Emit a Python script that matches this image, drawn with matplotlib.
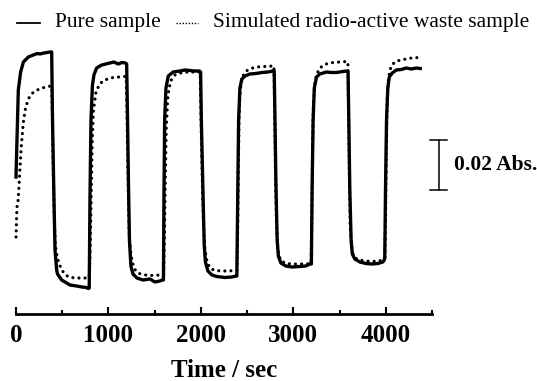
import numpy as np
import matplotlib
matplotlib.use('Agg')
import matplotlib.pyplot as plt
from matplotlib.lines import Line2D

##################
# DATA ###########
##################

# Pure sample trace: time (s) and absorbance (mAbs, arbitrary offset)
t_pure = [0, 25, 50, 80, 133, 187, 230, 260, 300, 340, 368, 386,
          395, 411, 422, 440, 449, 494, 548, 584, 656, 713, 760, 782,
          792, 800, 811, 827, 843, 872, 927, 1016, 1059, 1106, 1146, 1184,
          1197, 1205, 1216, 1227, 1243, 1265, 1308, 1373, 1449, 1503, 1557, 1584,
          1595, 1600, 1608, 1622, 1647, 1700, 1773, 1827, 1881, 1935, 1984,
          1997, 2005, 2022, 2036, 2049, 2076, 2119, 2173, 2260, 2335, 2382,
          2389, 2398, 2408, 2422, 2443, 2476, 2530, 2595, 2660, 2725, 2784,
          2793, 2800, 2811, 2825, 2838, 2865, 2919, 2984, 3070, 3135, 3178,
          3195, 3203, 3214, 3227, 3251, 3286, 3359, 3405, 3468, 3535, 3584,
          3592, 3600, 3611, 3625, 3638, 3665, 3719, 3784, 3849, 3914, 3968, 3984,
          3989, 3997, 4008, 4022, 4038, 4070, 4114, 4168, 4222, 4276, 4330, 4373]
a_pure = [49.2, 84.0, 91.2, 95.2, 97.2, 98.0, 98.6, 98.4, 98.8, 99.0, 99.2, 99.2,
          72.0, 40.0, 20.0, 12.0, 10.4, 8.0, 6.8, 6.0, 5.6, 5.2, 5.0, 4.6,
          4.8, 40.0, 72.0, 86.0, 90.0, 92.8, 94.0, 94.8, 95.2, 94.4, 95.0, 94.8,
          94.4, 76.0, 48.0, 24.0, 13.6, 10.4, 8.8, 8.0, 8.4, 7.2, 7.6, 8.0,
          8.0, 40.0, 72.0, 84.8, 89.6, 91.2, 91.6, 92.0, 91.8, 91.6, 91.6,
          91.2, 72.0, 44.0, 22.0, 15.2, 11.6, 10.0, 9.4, 9.0, 9.2, 9.6,
          9.6, 40.0, 72.0, 84.8, 88.4, 89.6, 90.4, 90.6, 91.0, 91.2, 91.6,
          91.6, 76.0, 48.0, 24.0, 17.6, 14.8, 13.6, 13.2, 13.4, 13.6, 14.4,
          14.4, 44.0, 72.0, 84.8, 89.2, 90.4, 91.2, 91.0, 91.0, 91.4, 91.6,
          91.2, 72.0, 44.0, 24.0, 18.4, 16.4, 15.2, 14.6, 14.4, 14.6, 15.2, 16.0,
          16.8, 44.0, 72.0, 84.8, 89.2, 90.8, 92.0, 92.2, 92.8, 92.4, 92.8, 92.6]

# Simulated radio-active waste sample trace
t_waste = [0, 5, 10, 20, 30, 45, 60, 80, 105, 140, 180, 230, 280, 330, 375,
           386, 392, 400, 412, 425, 440, 460, 490, 525, 570, 640, 720, 775,
           790, 800, 812, 825, 838, 865, 900, 940, 990, 1050, 1110, 1180,
           1192, 1200, 1212, 1225, 1240, 1260, 1290, 1330, 1400, 1480, 1560, 1590,
           1597, 1605, 1615, 1625, 1640, 1655, 1680, 1720, 1780, 1860, 1940, 1985,
           1992, 1998, 2010, 2025, 2040, 2055, 2075, 2105, 2150, 2230, 2310, 2380,
           2390, 2398, 2405, 2412, 2422, 2435, 2455, 2490, 2540, 2610, 2690, 2780,
           2790, 2796, 2805, 2815, 2828, 2845, 2870, 2920, 3000, 3080, 3150, 3185,
           3192, 3200, 3208, 3217, 3230, 3250, 3280, 3320, 3370, 3430, 3500, 3580,
           3590, 3596, 3605, 3615, 3628, 3645, 3670, 3710, 3780, 3860, 3930, 3980,
           3990, 3998, 4006, 4015, 4028, 4045, 4070, 4110, 4160, 4220, 4280, 4330, 4370]
a_waste = [25.2, 31.2, 37.2, 38.4, 44.0, 54.0, 62.8, 71.2, 77.2, 80.8, 82.8, 84.0, 84.8, 85.2, 85.6,
           85.6, 76.0, 56.0, 36.0, 22.0, 18.4, 15.2, 12.4, 10.4, 9.2, 8.8, 8.8, 8.8,
           8.8, 16.0, 40.0, 64.0, 76.0, 83.2, 86.0, 87.6, 88.4, 89.0, 89.2, 89.4,
           89.2, 76.0, 48.0, 26.0, 19.2, 14.8, 12.0, 10.6, 10.0, 9.8, 10.0, 10.0,
           10.0, 24.0, 48.0, 68.0, 80.0, 84.8, 88.0, 90.0, 90.8, 91.2, 91.2, 91.2,
           91.2, 80.0, 56.0, 34.0, 22.0, 17.2, 14.4, 12.6, 11.8, 11.6, 11.6, 12.0,
           12.0, 28.0, 52.0, 72.0, 82.0, 86.8, 89.6, 91.6, 92.6, 93.2, 93.4, 93.6,
           93.6, 80.0, 56.0, 34.0, 22.0, 17.6, 15.6, 14.6, 14.4, 14.4, 14.4, 14.8,
           14.8, 32.0, 60.0, 78.0, 86.0, 90.0, 92.4, 93.8, 94.6, 95.0, 95.2, 95.4,
           95.2, 80.0, 52.0, 30.0, 22.0, 18.4, 16.8, 16.0, 15.6, 15.4, 15.6, 16.4,
           16.8, 34.0, 60.0, 80.0, 88.0, 92.0, 94.2, 95.4, 96.0, 96.4, 96.8, 97.0, 96.6]

x_major = [0, 1000, 2000, 3000, 4000]
x_minor = [500, 1500, 2500, 3500, 4500]
scale_bar = [44.0, 64.0]   # 20 mAbs = 0.02 Abs

##################

plt.rcParams['font.family'] = ['Liberation Serif', 'DejaVu Serif']

fig = plt.figure(figsize=(5.37, 3.81), dpi=100)
ax = fig.add_axes([16/537, 1 - 314/381, 416/537, 274/381])

ax.plot(t_pure, a_pure, color='black', lw=2.4, solid_joinstyle='round', clip_on=False)
ax.plot(t_waste, a_waste, color='black', lw=2.3, linestyle=(0, (0.01, 1.9)),
        dash_capstyle='round', clip_on=False)

ax.set_xlim(0, 4500)
ax.set_ylim(-5.6, 104)

# only the bottom axis is drawn
for s in ['left', 'right', 'top']:
    ax.spines[s].set_visible(False)
ax.spines['bottom'].set_linewidth(2.0)
ax.set_yticks([])
ax.set_xticks(x_major)
ax.set_xticks(x_minor, minor=True)
ax.tick_params(axis='x', which='major', direction='in', length=5, width=1.5, pad=7)
ax.tick_params(axis='x', which='minor', direction='in', length=3, width=1.5)
for lbl in ax.get_xticklabels():
    lbl.set_fontsize(18)
    lbl.set_fontweight('bold')
ax.set_xlabel('Time / sec', fontsize=18, fontweight='bold', labelpad=9)

# scale bar
cap = 90
ax.plot([4573, 4573], scale_bar, color='black', lw=1.1, clip_on=False)
for yy in scale_bar:
    ax.plot([4573 - cap, 4573 + cap], [yy, yy], color='black', lw=1.1, clip_on=False)
ax.text(4735, np.mean(scale_bar), '0.02 Abs.', fontsize=15.5, fontweight='bold',
        va='center', ha='left', clip_on=False)

# legend drawn by hand at the top
ly = 1 - 23/381
fig.add_artist(Line2D([17/537, 40/537], [ly, ly], color='black', lw=1.3,
                      transform=fig.transFigure))
fig.text(55/537, ly, 'Pure sample', fontsize=15.5, va='center', ha='left')
fig.add_artist(Line2D([176/537, 198/537], [ly, ly], color='black', lw=1.0,
                      linestyle=(0, (1, 1.2)), transform=fig.transFigure))
fig.text(213/537, ly, 'Simulated radio-active waste sample', fontsize=15.5,
         va='center', ha='left')

plt.savefig('out.png', dpi=100)
